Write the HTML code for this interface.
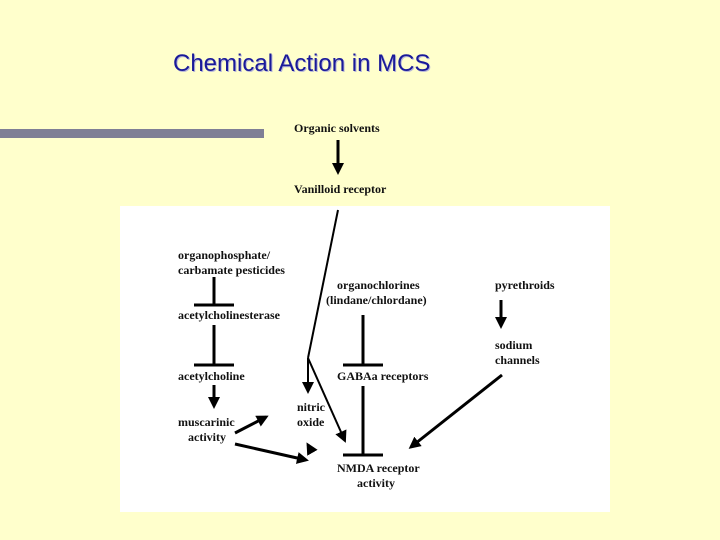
<!DOCTYPE html>
<html><head><style>
body{margin:0;width:720px;height:540px;background:#ffffcc;position:relative;overflow:hidden;font-family:"Liberation Serif",serif}
.t{position:absolute;font-weight:bold;font-size:12px;color:#111;white-space:nowrap;line-height:14px}
</style></head><body>
<div style="position:absolute;left:173px;top:50px;font:24px 'Liberation Sans',sans-serif;color:#1a1a99;text-shadow:1px 1px 0 #b8b8d8">Chemical Action in MCS</div>
<div style="position:absolute;left:0;top:129px;width:264px;height:9px;background:#7f7f95"></div>
<div style="position:absolute;left:120px;top:206px;width:490px;height:306px;background:#fff"></div>
<div class="t" style="left:294px;top:121px">Organic solvents</div>
<div class="t" style="left:294px;top:182px">Vanilloid receptor</div>
<div class="t" style="left:178px;top:248px">organophosphate/</div>
<div class="t" style="left:178px;top:263px">carbamate pesticides</div>
<div class="t" style="left:178px;top:308px">acetylcholinesterase</div>
<div class="t" style="left:178px;top:369px">acetylcholine</div>
<div class="t" style="left:178px;top:415px">muscarinic</div>
<div class="t" style="left:188px;top:430px">activity</div>
<div class="t" style="left:337px;top:278px">organochlorines</div>
<div class="t" style="left:326px;top:293px">(lindane/chlordane)</div>
<div class="t" style="left:495px;top:278px">pyrethroids</div>
<div class="t" style="left:495px;top:338px">sodium</div>
<div class="t" style="left:495px;top:353px">channels</div>
<div class="t" style="left:337px;top:369px">GABAa receptors</div>
<div class="t" style="left:297px;top:400px">nitric</div>
<div class="t" style="left:297px;top:415px">oxide</div>
<div class="t" style="left:337px;top:461px">NMDA receptor</div>
<div class="t" style="left:357px;top:476px">activity</div>
<svg width="720" height="540" style="position:absolute;left:0;top:0">
<defs><marker id="a" markerWidth="4" markerHeight="4" refX="3" refY="2" orient="auto"><path d="M0,0L4,2L0,4z" fill="#000"/></marker>
<marker id="b" markerWidth="6" markerHeight="6" refX="5" refY="3" orient="auto"><path d="M0,0L6,3L0,6z" fill="#000"/></marker></defs>
<g stroke="#000" stroke-width="3" fill="none">
<line x1="338" y1="140" x2="338" y2="172" marker-end="url(#a)"/>
<line x1="214" y1="277" x2="214" y2="305"/><line x1="194" y1="305" x2="234" y2="305"/>
<line x1="214" y1="325" x2="214" y2="365"/><line x1="194" y1="365" x2="234" y2="365"/>
<line x1="214" y1="385" x2="214" y2="406" marker-end="url(#a)"/>
<line x1="363" y1="315" x2="363" y2="365"/><line x1="343" y1="365" x2="383" y2="365"/>
<line x1="363" y1="386" x2="363" y2="455"/><line x1="343" y1="455" x2="383" y2="455"/>
<line x1="501" y1="300" x2="501" y2="326" marker-end="url(#a)"/>
<line x1="502" y1="375" x2="411" y2="447" marker-end="url(#a)"/>
<line x1="235" y1="433" x2="266" y2="417" marker-end="url(#a)"/>
<line x1="235" y1="444" x2="306" y2="460" marker-end="url(#a)"/>
<line x1="312" y1="452" x2="308" y2="445" marker-end="url(#a)"/>
</g>
<g stroke="#000" stroke-width="2" fill="none">
<line x1="338" y1="210" x2="308" y2="358"/>
<line x1="308" y1="358" x2="308" y2="392" marker-end="url(#b)"/>
<line x1="308" y1="358" x2="345" y2="441" marker-end="url(#b)"/>
</g>
</svg>
</body></html>
